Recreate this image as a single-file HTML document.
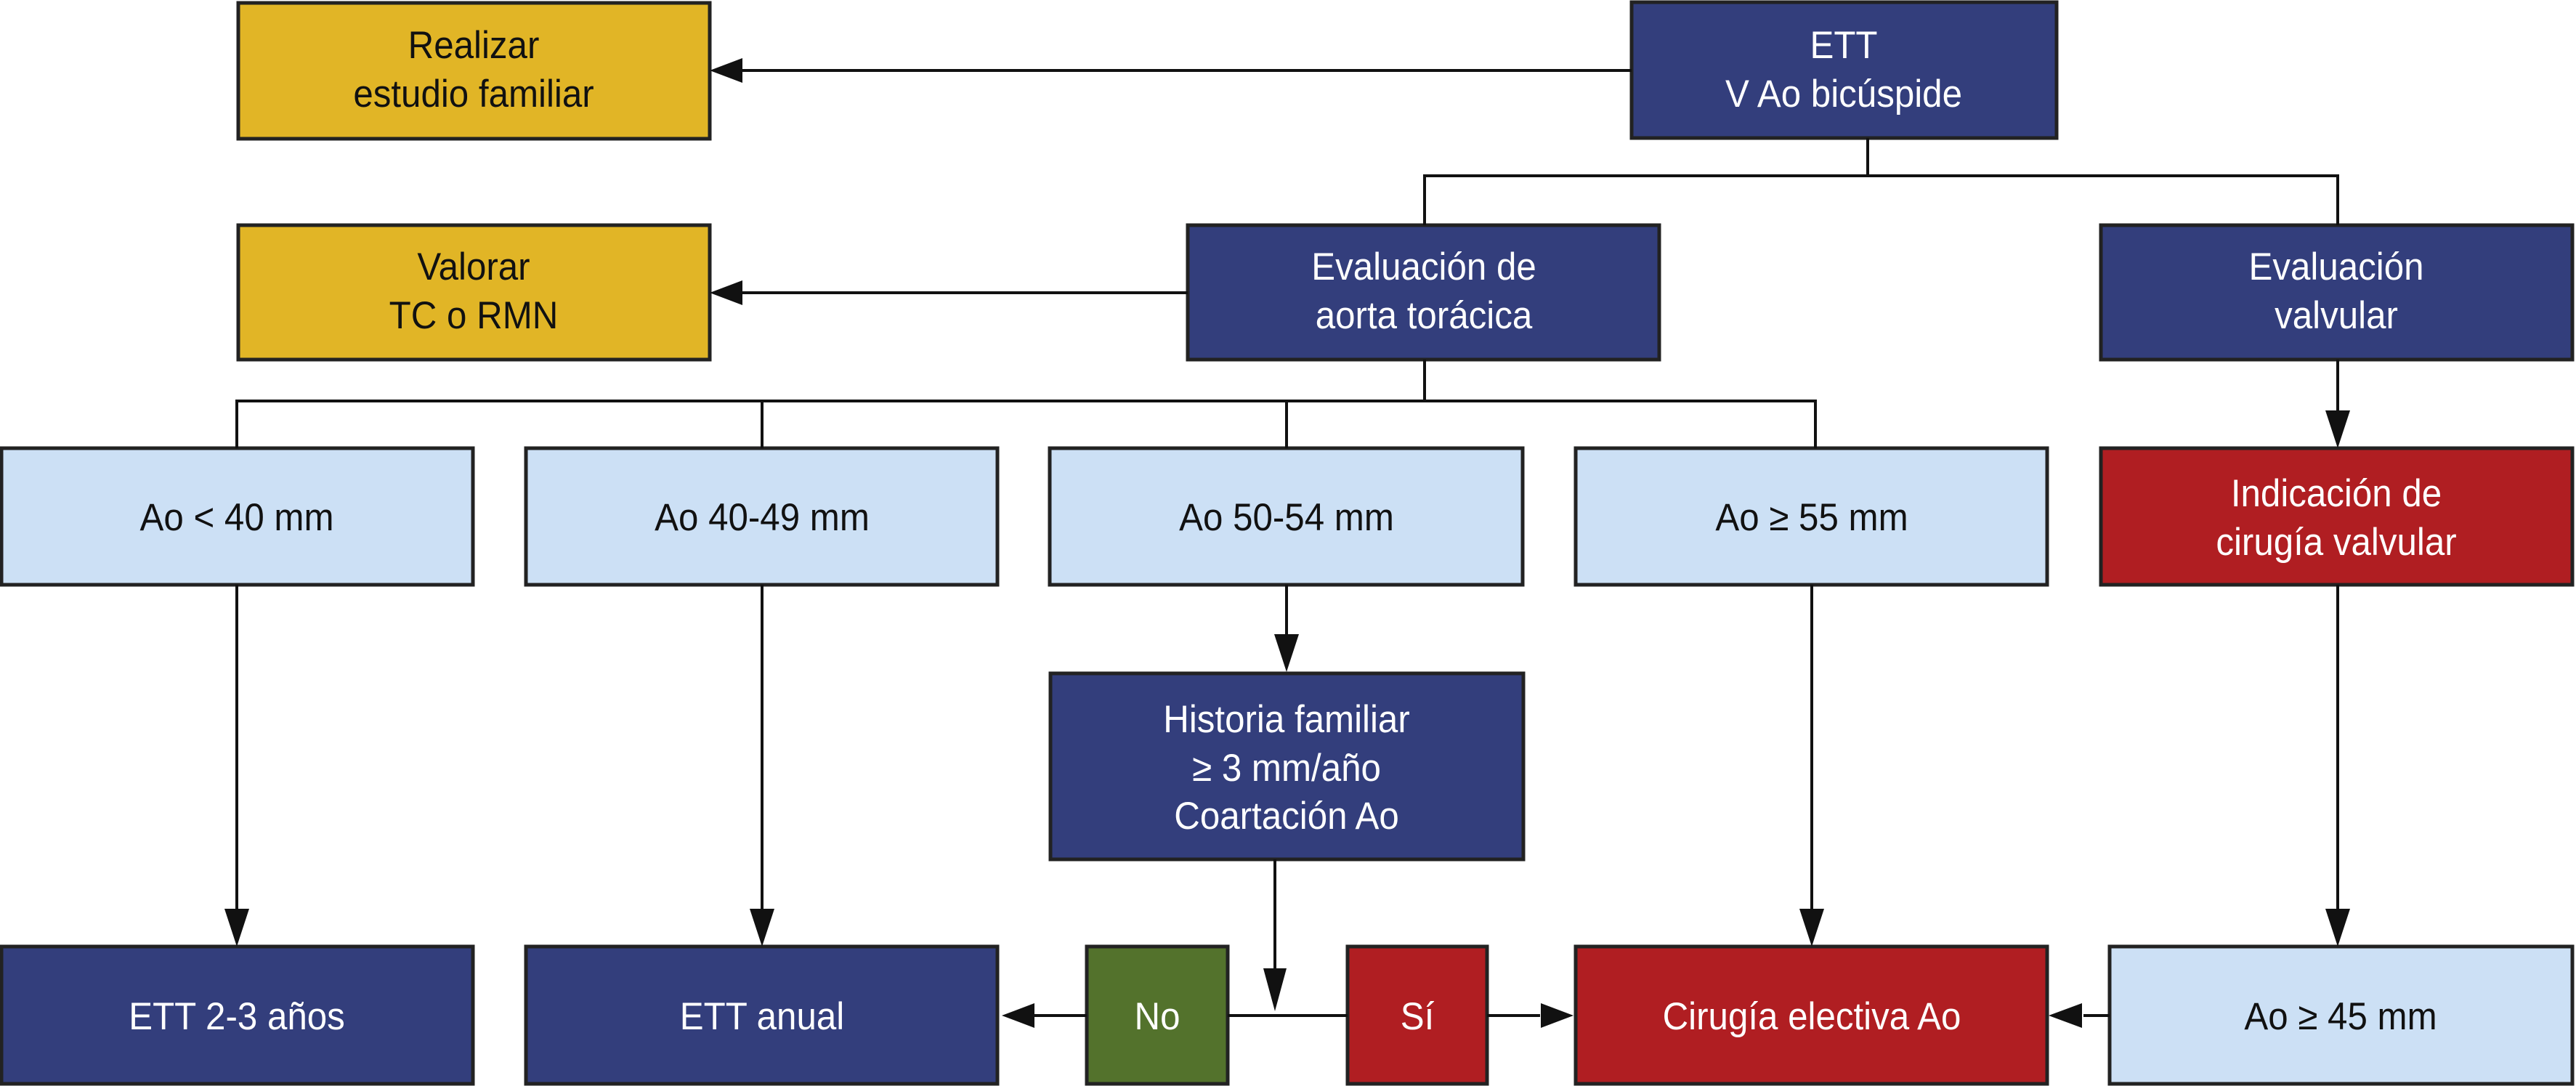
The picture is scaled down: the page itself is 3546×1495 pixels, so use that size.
<!DOCTYPE html>
<html><head><meta charset="utf-8"><style>
html,body{margin:0;padding:0;background:#fff;}
svg{display:block;}
text{font-family:"Liberation Sans",sans-serif;font-size:53px;text-anchor:middle;}
.w{fill:#fff;} .k{fill:#111;}
</style></head><body>
<svg width="3546" height="1495" viewBox="0 0 3546 1495" xmlns="http://www.w3.org/2000/svg">
<g stroke="#222" stroke-width="5">
<rect x="328" y="4" width="649" height="187" fill="#E1B526"/>
<rect x="2246" y="3" width="585" height="187" fill="#333E7C"/>
<rect x="328" y="310" width="649" height="185" fill="#E1B526"/>
<rect x="1635" y="310" width="649" height="185" fill="#333E7C"/>
<rect x="2892" y="310" width="649" height="185" fill="#333E7C"/>
<rect x="2" y="617" width="649" height="188" fill="#CCE0F5"/>
<rect x="724" y="617" width="649" height="188" fill="#CCE0F5"/>
<rect x="1445" y="617" width="651" height="188" fill="#CCE0F5"/>
<rect x="2169" y="617" width="649" height="188" fill="#CCE0F5"/>
<rect x="2892" y="617" width="649" height="188" fill="#B01E22"/>
<rect x="1446" y="927" width="651" height="256" fill="#333E7C"/>
<rect x="2" y="1303" width="649" height="189" fill="#333E7C"/>
<rect x="724" y="1303" width="649" height="189" fill="#333E7C"/>
<rect x="1496" y="1303" width="194" height="189" fill="#53722C"/>
<rect x="1855" y="1303" width="192" height="189" fill="#B01E22"/>
<rect x="2169" y="1303" width="649" height="189" fill="#B01E22"/>
<rect x="2904" y="1303" width="637" height="189" fill="#CCE0F5"/>
</g>
<g stroke="#111" stroke-width="4" fill="none">
<path d="M2246 97H1020"/>
<path d="M1635 403H1020"/>
<path d="M2571 190V242M1961 242H3218M1961 240V310M3218 240V310"/>
<path d="M1961 495V552M326 552H2499M326 550V617M1049 550V617M1771 550V617M2499 550V617"/>
<path d="M3218 495V565"/>
<path d="M326 805V1253M1049 805V1253M1771 805V875M2494 805V1253M3218 805V1253"/>
<path d="M1755 1183V1335"/>
<path d="M1690 1398H1855"/>
<path d="M1496 1398H1423"/>
<path d="M2047 1398H2120"/>
<path d="M2904 1398H2868"/>
</g>
<g fill="#111">
<polygon points="977,97 1022,80 1022,114"/>
<polygon points="977,403 1022,386 1022,420"/>
<polygon points="3218,617 3201,565 3235,565"/>
<polygon points="326,1303 309,1251 343,1251"/>
<polygon points="1049,1303 1032,1251 1066,1251"/>
<polygon points="1771,925 1754,873 1788,873"/>
<polygon points="2494,1303 2477,1251 2511,1251"/>
<polygon points="3218,1303 3201,1251 3235,1251"/>
<polygon points="1755,1392 1739,1333 1771,1333"/>
<polygon points="1379,1398 1424,1381 1424,1415"/>
<polygon points="2166,1398 2121,1381 2121,1415"/>
<polygon points="2820,1398 2866,1381 2866,1415"/>
</g>
<g transform="scale(1,1)">
<g transform="translate(652,0) scale(0.93,1)"><text class="k" y="80">Realizar</text><text class="k" y="147">estudio familiar</text></g>
<g transform="translate(2538,0) scale(0.93,1)"><text class="w" y="80">ETT</text><text class="w" y="147">V Ao bicúspide</text></g>
<g transform="translate(652,0) scale(0.93,1)"><text class="k" y="385">Valorar</text><text class="k" y="452">TC o RMN</text></g>
<g transform="translate(1960,0) scale(0.93,1)"><text class="w" y="385">Evaluación de</text><text class="w" y="452">aorta torácica</text></g>
<g transform="translate(3216,0) scale(0.93,1)"><text class="w" y="385">Evaluación</text><text class="w" y="452">valvular</text></g>
<g transform="translate(326,0) scale(0.93,1)"><text class="k" y="730">Ao &lt; 40 mm</text></g>
<g transform="translate(1049,0) scale(0.93,1)"><text class="k" y="730">Ao 40-49 mm</text></g>
<g transform="translate(1771,0) scale(0.93,1)"><text class="k" y="730">Ao 50-54 mm</text></g>
<g transform="translate(2494,0) scale(0.93,1)"><text class="k" y="730">Ao ≥ 55 mm</text></g>
<g transform="translate(3216,0) scale(0.93,1)"><text class="w" y="697">Indicación de</text><text class="w" y="764">cirugía valvular</text></g>
<g transform="translate(1771,0) scale(0.93,1)"><text class="w" y="1008">Historia familiar</text><text class="w" y="1075">≥ 3 mm/año</text><text class="w" y="1141">Coartación Ao</text></g>
<g transform="translate(326,0) scale(0.93,1)"><text class="w" y="1417">ETT 2-3 años</text></g>
<g transform="translate(1049,0) scale(0.93,1)"><text class="w" y="1417">ETT anual</text></g>
<g transform="translate(1593,0) scale(0.93,1)"><text class="w" y="1417">No</text></g>
<g transform="translate(1951,0) scale(0.93,1)"><text class="w" y="1417">Sí</text></g>
<g transform="translate(2494,0) scale(0.93,1)"><text class="w" y="1417">Cirugía electiva Ao</text></g>
<g transform="translate(3222,0) scale(0.93,1)"><text class="k" y="1417">Ao ≥ 45 mm</text></g>
</g>
</svg>
</body></html>
